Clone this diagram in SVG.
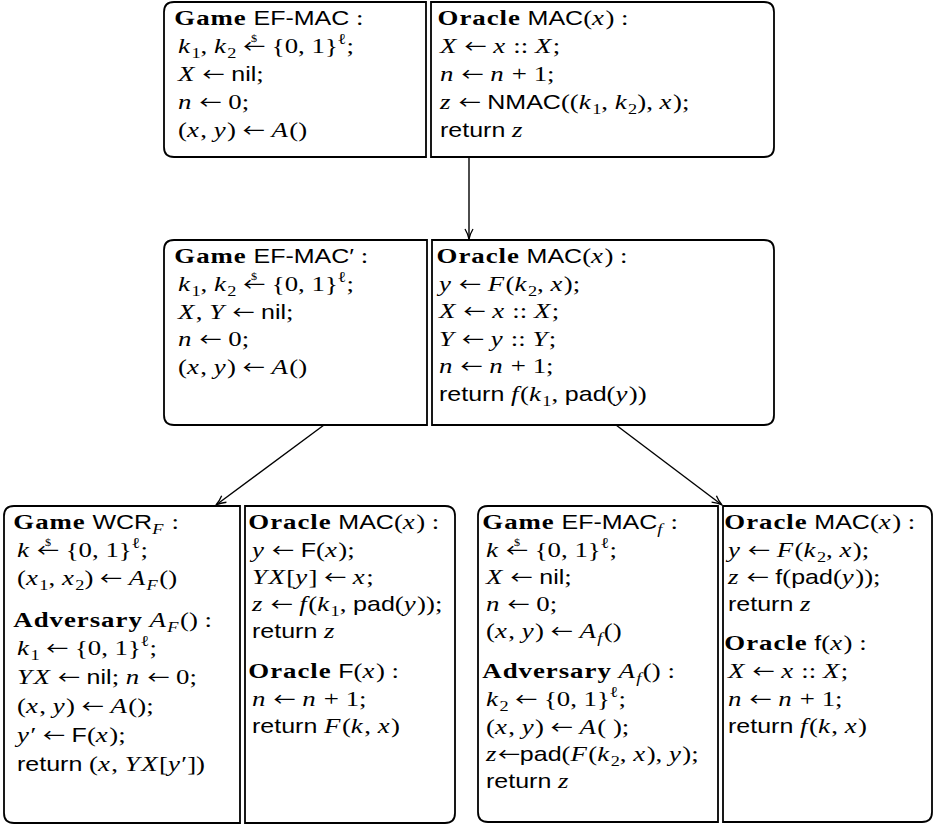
<svg xmlns="http://www.w3.org/2000/svg" width="937" height="825" viewBox="0 0 937 825">
<defs>
<style>
text { font-family: "Liberation Serif", "Times New Roman", serif; font-size: 22px; fill: #000; }
.h { font-weight: bold; letter-spacing: 0.8px; }
.i { font-style: italic; letter-spacing: 1.2px; }
.s { font-family: "Liberation Sans", Arial, sans-serif; font-size: 20.5px; letter-spacing: 0; }
.sub { font-size: 15px; }
.ar { font-family: "Noto Sans CJK JP", "DejaVu Sans", sans-serif; font-size: 18px; font-style: normal; letter-spacing: 0; }
.dl { font-size: 10px; font-style: normal; letter-spacing: 0; }
.box { fill: #fff; stroke: #000; stroke-width: 1.8; }
.edge { fill: none; stroke: #000; stroke-width: 1.4; }
</style>
<marker id="arr" viewBox="0 0 12 10" refX="11" refY="5" markerWidth="12" markerHeight="10" markerUnits="userSpaceOnUse" orient="auto">
<path d="M1,1 Q6,4 11,5 Q6,6 1,9" fill="none" stroke="#000" stroke-width="1.3"/>
</marker>
</defs>
<rect width="937" height="825" fill="#fff"/>

<g id="connectors">
<line class="edge" x1="469" y1="157" x2="469" y2="239" marker-end="url(#arr)"/>
<line class="edge" x1="324" y1="425" x2="216" y2="505" marker-end="url(#arr)"/>
<line class="edge" x1="616" y1="425" x2="722" y2="505" marker-end="url(#arr)"/>
</g>

<g id="node-efmac">
<path class="box" d="M426,2 H174 Q164,2 164,12 V147 Q164,157 174,157 H426 Z"/>
<path class="box" d="M431,2 H764 Q774,2 774,12 V147 Q774,157 764,157 H431 Z"/>
<g transform="translate(178 0) scale(1.22 1)">
<text x="-3" y="25"><tspan class="h">Game</tspan> <tspan class="s">EF-MAC</tspan> :</text>
<text x="0" y="53"><tspan class="i">k</tspan><tspan class="sub" dy="5">1</tspan><tspan dy="-5">, </tspan><tspan class="i">k</tspan><tspan class="sub" dy="5">2</tspan><tspan dy="-5"> </tspan><tspan class="ar">←</tspan><tspan class="dl" dx="-11.5" dy="-11">$</tspan><tspan dx="6.5" dy="11"> {0, 1}</tspan><tspan class="sub" dy="-9">ℓ</tspan><tspan dy="9">;</tspan></text>
<text x="0" y="81"><tspan class="i">X</tspan> <tspan class="ar">←</tspan> <tspan class="s">nil</tspan>;</text>
<text x="0" y="109"><tspan class="i">n</tspan> <tspan class="ar">←</tspan> 0;</text>
<text x="0" y="137">(<tspan class="i">x</tspan>, <tspan class="i">y</tspan>) <tspan class="ar">←</tspan> <tspan class="i">A</tspan>()</text>
</g>
<g transform="translate(440 0) scale(1.22 1)">
<text x="-2" y="25"><tspan class="h">Oracle</tspan> <tspan class="s">MAC</tspan>(<tspan class="i">x</tspan>) :</text>
<text x="0" y="53"><tspan class="i">X</tspan> <tspan class="ar">←</tspan> <tspan class="i">x</tspan> :: <tspan class="i">X</tspan>;</text>
<text x="0" y="81"><tspan class="i">n</tspan> <tspan class="ar">←</tspan> <tspan class="i">n</tspan> + 1;</text>
<text x="0" y="109"><tspan class="i">z</tspan> <tspan class="ar">←</tspan> <tspan class="s">NMAC</tspan>((<tspan class="i">k</tspan><tspan class="sub" dy="5">1</tspan><tspan dy="-5">, </tspan><tspan class="i">k</tspan><tspan class="sub" dy="5">2</tspan><tspan dy="-5">), </tspan><tspan class="i">x</tspan>);</text>
<text x="0" y="137"><tspan class="s">return</tspan> <tspan class="i">z</tspan></text>
</g>
</g>

<g id="node-efmac-prime">
<path class="box" d="M427,240 H174 Q164,240 164,250 V415 Q164,425 174,425 H427 Z"/>
<path class="box" d="M432,240 H764 Q774,240 774,250 V415 Q774,425 764,425 H432 Z"/>
<g transform="translate(178 0) scale(1.22 1)">
<text x="-3" y="263"><tspan class="h">Game</tspan> <tspan class="s">EF-MAC′</tspan> :</text>
<text x="0" y="291"><tspan class="i">k</tspan><tspan class="sub" dy="5">1</tspan><tspan dy="-5">, </tspan><tspan class="i">k</tspan><tspan class="sub" dy="5">2</tspan><tspan dy="-5"> </tspan><tspan class="ar">←</tspan><tspan class="dl" dx="-11.5" dy="-11">$</tspan><tspan dx="6.5" dy="11"> {0, 1}</tspan><tspan class="sub" dy="-9">ℓ</tspan><tspan dy="9">;</tspan></text>
<text x="0" y="319"><tspan class="i">X</tspan>, <tspan class="i">Y</tspan> <tspan class="ar">←</tspan> <tspan class="s">nil</tspan>;</text>
<text x="0" y="346"><tspan class="i">n</tspan> <tspan class="ar">←</tspan> 0;</text>
<text x="0" y="374">(<tspan class="i">x</tspan>, <tspan class="i">y</tspan>) <tspan class="ar">←</tspan> <tspan class="i">A</tspan>()</text>
</g>
<g transform="translate(439 0) scale(1.22 1)">
<text x="-2" y="263"><tspan class="h">Oracle</tspan> <tspan class="s">MAC</tspan>(<tspan class="i">x</tspan>) :</text>
<text x="0" y="291"><tspan class="i">y</tspan> <tspan class="ar">←</tspan> <tspan class="i">F</tspan>(<tspan class="i">k</tspan><tspan class="sub" dy="5">2</tspan><tspan dy="-5">, </tspan><tspan class="i">x</tspan>);</text>
<text x="0" y="318"><tspan class="i">X</tspan> <tspan class="ar">←</tspan> <tspan class="i">x</tspan> :: <tspan class="i">X</tspan>;</text>
<text x="0" y="346"><tspan class="i">Y</tspan> <tspan class="ar">←</tspan> <tspan class="i">y</tspan> :: <tspan class="i">Y</tspan>;</text>
<text x="0" y="373"><tspan class="i">n</tspan> <tspan class="ar">←</tspan> <tspan class="i">n</tspan> + 1;</text>
<text x="0" y="401"><tspan class="s">return</tspan> <tspan class="i">f</tspan>(<tspan class="i">k</tspan><tspan class="sub" dy="5">1</tspan><tspan dy="-5">, </tspan><tspan class="s">pad</tspan>(<tspan class="i">y</tspan>))</text>
</g>
</g>

<g id="node-wcr">
<path class="box" d="M240,506 H14 Q4,506 4,516 V813 Q4,823 14,823 H240 Z"/>
<path class="box" d="M245,506 H445 Q455,506 455,516 V813 Q455,823 445,823 H245 Z"/>
<g transform="translate(17 0) scale(1.22 1)">
<text x="-3" y="529"><tspan class="h">Game</tspan> <tspan class="s">WCR</tspan><tspan class="sub i" dy="5">F</tspan><tspan dy="-5"> :</tspan></text>
<text x="0" y="557"><tspan class="i">k</tspan> <tspan class="ar">←</tspan><tspan class="dl" dx="-11.5" dy="-11">$</tspan><tspan dx="6.5" dy="11"> {0, 1}</tspan><tspan class="sub" dy="-9">ℓ</tspan><tspan dy="9">;</tspan></text>
<text x="0" y="585">(<tspan class="i">x</tspan><tspan class="sub" dy="5">1</tspan><tspan dy="-5">, </tspan><tspan class="i">x</tspan><tspan class="sub" dy="5">2</tspan><tspan dy="-5">) </tspan><tspan class="ar">←</tspan> <tspan class="i">A</tspan><tspan class="sub i" dy="5">F</tspan><tspan dy="-5">()</tspan></text>
<text x="-3" y="627"><tspan class="h">Adversary</tspan> <tspan class="i">A</tspan><tspan class="sub i" dy="5">F</tspan><tspan dy="-5">() :</tspan></text>
<text x="0" y="655"><tspan class="i">k</tspan><tspan class="sub" dy="5">1</tspan><tspan dy="-5"> </tspan><tspan class="ar">←</tspan> {0, 1}<tspan class="sub" dy="-9">ℓ</tspan><tspan dy="9">;</tspan></text>
<text x="0" y="684"><tspan class="i">YX</tspan> <tspan class="ar">←</tspan> <tspan class="s">nil</tspan>; <tspan class="i">n</tspan> <tspan class="ar">←</tspan> 0;</text>
<text x="0" y="713">(<tspan class="i">x</tspan>, <tspan class="i">y</tspan>) <tspan class="ar">←</tspan> <tspan class="i">A</tspan>();</text>
<text x="0" y="742"><tspan class="i">y</tspan>′ <tspan class="ar">←</tspan> <tspan class="s">F</tspan>(<tspan class="i">x</tspan>);</text>
<text x="0" y="771"><tspan class="s">return</tspan> (<tspan class="i">x</tspan>, <tspan class="i">YX</tspan>[<tspan class="i">y</tspan>′])</text>
</g>
<g transform="translate(252 0) scale(1.22 1)">
<text x="-3" y="529"><tspan class="h">Oracle</tspan> <tspan class="s">MAC</tspan>(<tspan class="i">x</tspan>) :</text>
<text x="0" y="557"><tspan class="i">y</tspan> <tspan class="ar">←</tspan> <tspan class="s">F</tspan>(<tspan class="i">x</tspan>);</text>
<text x="0" y="584"><tspan class="i">YX</tspan>[<tspan class="i">y</tspan>] <tspan class="ar">←</tspan> <tspan class="i">x</tspan>;</text>
<text x="0" y="611"><tspan class="i">z</tspan> <tspan class="ar">←</tspan> <tspan class="i">f</tspan>(<tspan class="i">k</tspan><tspan class="sub" dy="5">1</tspan><tspan dy="-5">, </tspan><tspan class="s">pad</tspan>(<tspan class="i">y</tspan>));</text>
<text x="0" y="638"><tspan class="s">return</tspan> <tspan class="i">z</tspan></text>
<text x="-3" y="678"><tspan class="h">Oracle</tspan> <tspan class="s">F</tspan>(<tspan class="i">x</tspan>) :</text>
<text x="0" y="706"><tspan class="i">n</tspan> <tspan class="ar">←</tspan> <tspan class="i">n</tspan> + 1;</text>
<text x="0" y="733"><tspan class="s">return</tspan> <tspan class="i">F</tspan>(<tspan class="i">k</tspan>, <tspan class="i">x</tspan>)</text>
</g>
</g>

<g id="node-efmac-f">
<path class="box" d="M718,506 H488 Q478,506 478,516 V812 Q478,822 488,822 H718 Z"/>
<path class="box" d="M723,506 H922 Q932,506 932,516 V812 Q932,822 922,822 H723 Z"/>
<g transform="translate(486 0) scale(1.22 1)">
<text x="-3" y="529"><tspan class="h">Game</tspan> <tspan class="s">EF-MAC</tspan><tspan class="sub i" dy="5">f</tspan><tspan dy="-5"> :</tspan></text>
<text x="0" y="557"><tspan class="i">k</tspan> <tspan class="ar">←</tspan><tspan class="dl" dx="-11.5" dy="-11">$</tspan><tspan dx="6.5" dy="11"> {0, 1}</tspan><tspan class="sub" dy="-9">ℓ</tspan><tspan dy="9">;</tspan></text>
<text x="0" y="584"><tspan class="i">X</tspan> <tspan class="ar">←</tspan> <tspan class="s">nil</tspan>;</text>
<text x="0" y="611"><tspan class="i">n</tspan> <tspan class="ar">←</tspan> 0;</text>
<text x="0" y="638">(<tspan class="i">x</tspan>, <tspan class="i">y</tspan>) <tspan class="ar">←</tspan> <tspan class="i">A</tspan><tspan class="sub i" dy="5">f</tspan><tspan dy="-5">()</tspan></text>
<text x="-3" y="678"><tspan class="h">Adversary</tspan> <tspan class="i">A</tspan><tspan class="sub i" dy="5">f</tspan><tspan dy="-5">() :</tspan></text>
<text x="0" y="706"><tspan class="i">k</tspan><tspan class="sub" dy="5">2</tspan><tspan dy="-5"> </tspan><tspan class="ar">←</tspan> {0, 1}<tspan class="sub" dy="-9">ℓ</tspan><tspan dy="9">;</tspan></text>
<text x="0" y="734">(<tspan class="i">x</tspan>, <tspan class="i">y</tspan>) <tspan class="ar">←</tspan> <tspan class="i">A</tspan>( );</text>
<text x="0" y="761"><tspan class="i">z</tspan><tspan class="ar">←</tspan><tspan class="s">pad</tspan>(<tspan class="i">F</tspan>(<tspan class="i">k</tspan><tspan class="sub" dy="5">2</tspan><tspan dy="-5">, </tspan><tspan class="i">x</tspan>), <tspan class="i">y</tspan>);</text>
<text x="0" y="788"><tspan class="s">return</tspan> <tspan class="i">z</tspan></text>
</g>
<g transform="translate(728 0) scale(1.22 1)">
<text x="-3" y="529"><tspan class="h">Oracle</tspan> <tspan class="s">MAC</tspan>(<tspan class="i">x</tspan>) :</text>
<text x="0" y="557"><tspan class="i">y</tspan> <tspan class="ar">←</tspan> <tspan class="i">F</tspan>(<tspan class="i">k</tspan><tspan class="sub" dy="5">2</tspan><tspan dy="-5">, </tspan><tspan class="i">x</tspan>);</text>
<text x="0" y="584"><tspan class="i">z</tspan> <tspan class="ar">←</tspan> <tspan class="s">f</tspan>(<tspan class="s">pad</tspan>(<tspan class="i">y</tspan>));</text>
<text x="0" y="611"><tspan class="s">return</tspan> <tspan class="i">z</tspan></text>
<text x="-3" y="650"><tspan class="h">Oracle</tspan> <tspan class="s">f</tspan>(<tspan class="i">x</tspan>) :</text>
<text x="0" y="678"><tspan class="i">X</tspan> <tspan class="ar">←</tspan> <tspan class="i">x</tspan> :: <tspan class="i">X</tspan>;</text>
<text x="0" y="706"><tspan class="i">n</tspan> <tspan class="ar">←</tspan> <tspan class="i">n</tspan> + 1;</text>
<text x="0" y="733"><tspan class="s">return</tspan> <tspan class="i">f</tspan>(<tspan class="i">k</tspan>, <tspan class="i">x</tspan>)</text>
</g>
</g>
</svg>
